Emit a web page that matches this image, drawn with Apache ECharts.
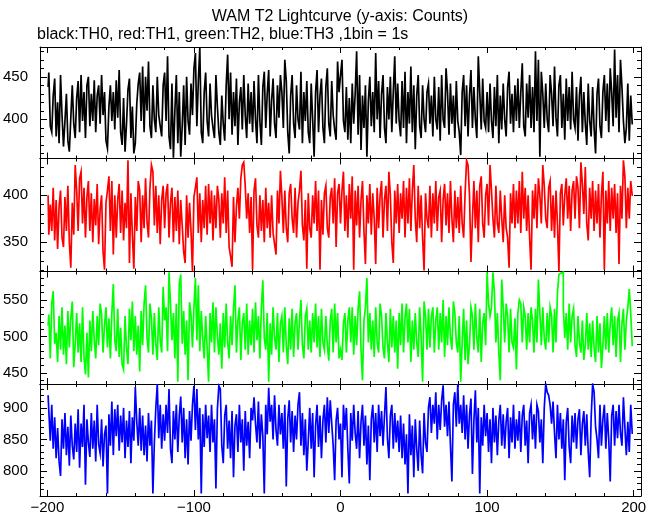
<!DOCTYPE html>
<html><head><meta charset="utf-8">
<script src="https://cdn.jsdelivr.net/npm/echarts@6/dist/echarts.min.js"></script>
<style>html,body{margin:0;padding:0;background:#fff}#c{width:660px;height:515px}</style>
</head><body><div id="c"></div><script>
// ---- data (counts per 1 s bin, bins from -200 s to +200 s) ----
const th0 = [
438,455,392,385,428,448,380,420,372,452,405,368,398,430,375,362,402,440,395,378,
425,445,385,452,398,432,378,440,450,392,430,398,446,385,428,440,395,452,405,432,
375,366,415,440,398,432,388,446,402,458,385,370,425,362,395,435,448,378,415,360,
372,418,442,455,398,462,385,450,410,468,392,378,440,400,385,450,405,392,380,440,
455,398,474,380,365,442,355,410,452,372,432,356,392,440,370,450,398,382,442,405,
460,478,392,445,484,385,372,432,455,398,380,442,405,390,378,452,415,385,370,428,
395,375,440,476,400,455,382,432,392,448,370,420,438,388,452,405,378,442,395,432,
385,445,400,372,452,398,370,438,456,390,430,458,380,422,448,395,378,440,402,452,
432,390,470,445,385,360,428,452,395,378,440,400,388,456,372,432,398,445,385,372,
442,400,356,432,458,385,428,448,390,372,438,460,395,380,445,405,388,376,468,432,
452,470,398,385,438,376,425,372,442,395,430,480,382,452,364,428,390,440,356,422,
450,392,432,385,478,400,445,378,430,452,390,372,438,400,450,385,432,474,395,442,
398,380,445,390,456,372,432,395,462,385,440,365,428,452,392,378,440,400,385,432,
442,395,428,380,450,400,388,438,375,452,400,390,460,432,382,442,395,428,378,445,
398,385,358,432,452,392,440,380,428,458,390,438,400,378,474,432,388,448,398,390,
432,385,442,398,378,438,392,452,372,428,388,442,400,380,438,456,395,430,385,440,
398,448,390,432,466,392,380,442,402,452,390,438,385,480,398,470,356,456,430,390,
442,400,385,452,430,392,462,402,380,440,452,390,430,376,448,398,438,388,456,400,
390,438,375,428,450,385,432,395,370,442,398,380,438,390,360,430,448,392,378,432,
452,398,442,385,460,432,392,482,402,452,385,470,438,398,372,390,442,375,428,395
];
const th1 = [
400,358,390,362,408,352,395,343,388,405,355,345,398,362,410,350,323,392,358,432,
405,362,418,425,370,408,355,398,415,362,402,350,396,368,412,348,385,400,340,321,
392,405,420,362,415,337,400,355,395,412,360,405,352,392,365,437,328,402,358,322,
398,362,415,405,350,400,365,418,372,355,408,432,425,368,410,360,400,348,395,410,
365,402,412,355,392,408,350,398,362,405,348,395,368,340,328,400,355,392,362,319,
398,408,419,360,402,350,395,365,410,358,412,370,405,352,400,365,410,395,355,402,
370,419,360,405,345,335,324,398,350,388,408,375,418,432,435,410,375,402,360,398,
321,405,418,368,355,400,362,395,350,408,365,392,355,400,360,348,337,405,370,426,
398,360,405,365,350,402,412,375,360,408,355,392,405,426,368,352,395,322,402,365,
355,400,370,415,362,405,321,395,358,402,410,365,355,398,408,370,418,345,402,412,
370,405,425,362,400,355,412,375,420,321,405,368,410,355,395,415,362,327,400,370,
412,358,402,375,327,408,365,400,415,355,395,410,362,425,400,350,328,405,370,412,
360,402,375,415,355,408,370,418,362,405,432,375,350,410,365,400,355,320,402,375,
365,410,355,402,370,415,362,398,405,350,395,412,368,402,360,415,375,350,405,365,
398,360,410,370,355,402,437,432,400,329,375,415,365,405,350,410,420,370,355,400,
412,368,432,405,375,355,410,370,360,405,375,350,400,365,355,323,402,370,412,365,
405,370,415,360,425,375,408,362,400,355,321,405,375,412,365,418,400,370,432,410,
375,365,408,415,362,400,355,405,370,319,402,412,368,400,418,375,410,362,405,415,
375,420,408,365,435,412,380,430,370,352,408,375,415,362,405,370,412,355,400,425,
321,405,370,415,362,408,375,412,360,402,327,410,375,437,420,365,408,375,415,400
];
const th2 = [
515,530,470,545,562,490,505,465,528,482,540,475,515,462,535,485,525,548,458,490,
532,478,518,465,540,472,448,505,444,522,480,535,495,470,528,488,545,530,478,515,
540,485,525,470,532,572,495,480,538,472,512,462,455,528,485,462,538,495,548,480,
528,475,515,452,535,488,545,570,498,478,545,525,475,532,490,468,540,495,478,568,
522,540,480,588,545,495,532,470,545,438,572,585,490,535,475,522,440,547,530,485,
540,580,495,570,480,535,498,470,528,485,438,532,492,547,478,540,500,475,518,456,
532,485,545,492,470,528,488,538,570,478,522,540,468,518,532,482,545,475,522,488,
538,478,547,495,528,470,540,577,498,482,532,438,518,475,540,498,482,532,465,518,
528,478,540,488,462,525,482,538,472,518,532,482,522,550,488,470,528,538,482,522,
478,532,492,545,485,528,472,538,492,482,528,488,467,522,538,478,545,492,532,470,
482,468,518,532,478,522,540,492,540,475,528,488,538,562,482,440,522,540,580,492,
532,482,522,472,540,492,478,545,528,485,470,532,492,465,538,485,528,478,522,456,
532,488,545,478,525,545,492,538,465,522,482,532,492,472,540,498,438,548,528,482,
538,485,528,540,478,522,540,482,532,492,550,472,528,488,540,498,482,548,532,492,
478,528,438,492,538,468,522,462,488,540,528,482,545,498,478,538,465,518,532,488,
588,545,528,540,588,560,492,532,478,440,578,540,492,545,528,478,538,492,485,525,
455,532,550,545,492,540,528,482,532,492,540,522,478,538,492,578,532,488,540,498,
482,532,492,540,528,478,538,492,560,585,587,588,540,498,532,482,545,492,528,538,
488,472,528,492,478,522,468,488,532,482,518,472,522,485,465,528,478,518,457,488,
528,482,532,478,518,540,488,528,472,522,532,465,518,538,482,522,540,565,532,488
];
const th3 = [
920,895,848,905,835,885,820,868,815,792,882,835,892,825,870,808,888,840,818,875,
830,898,805,875,838,905,778,882,845,822,892,835,880,815,905,842,828,882,807,858,
872,764,890,840,910,825,898,855,905,832,888,845,900,820,880,838,895,812,885,848,
933,878,840,900,832,888,825,872,815,892,840,880,764,845,900,938,852,905,835,890,
848,905,860,930,835,812,895,850,905,830,888,918,845,900,820,882,810,895,848,905,
935,865,930,850,900,764,890,838,905,852,888,830,905,845,882,772,898,935,930,840,
812,888,905,835,880,820,895,790,872,890,830,905,845,882,800,895,840,878,820,900,
880,917,875,845,910,835,890,855,764,905,858,932,878,905,850,920,865,840,905,858,
892,835,905,775,882,912,845,895,830,888,850,905,925,840,892,825,882,800,848,900,
835,892,790,872,905,838,888,820,880,905,845,917,860,912,875,840,785,880,900,850,
875,790,905,865,900,835,780,892,848,905,860,835,895,820,878,905,840,888,810,872,
785,882,905,845,892,830,905,855,895,840,888,933,852,820,888,905,835,892,845,880,
830,888,820,875,810,858,764,890,825,872,790,882,835,800,880,825,796,892,845,830,
900,917,860,905,875,925,850,905,865,912,936,870,905,855,910,840,783,905,925,870,
938,875,905,860,920,850,905,835,890,915,795,880,928,845,900,764,885,840,905,855,
892,830,882,812,900,845,888,825,880,905,840,890,835,878,900,820,885,845,905,835,
882,848,895,830,888,905,840,880,812,892,905,850,890,835,905,895,845,882,812,900,
938,925,920,905,875,910,860,820,905,850,892,835,882,785,878,900,838,812,888,845,
892,835,882,898,825,875,895,840,890,830,790,885,938,925,870,850,820,905,840,882,
905,835,892,850,783,888,905,840,895,852,905,860,840,917,870,825,878,830,905,860
];
const seriesNames = ['TH0','TH1','TH2','TH3'];
const seriesColors = ['#000000','#ff0000','#00ff00','#0000ff'];
const seriesValues = [th0, th1, th2, th3];
const binStart = -200;          // first bin edge (s)
const binWidth = 1;             // 1 bin = 1 s
const xMin = -205, xMax = 205;
const xMajorTicks = [-200,-100,0,100,200];
const xMinorTicks = [-180,-160,-140,-120,-80,-60,-40,-20,20,40,60,80,120,140,160,180];
const yRanges = [[354,485],[319,439],[435,589],[760,938]];
const yMajorTicks = [[400,450],[350,400],[450,500,550],[800,850,900]];
const yMinorTicks = [
  [360,370,380,390,410,420,430,440,460,470,480],
  [320,330,340,360,370,380,390,410,420,430],
  [440,460,470,480,490,510,520,530,540,560,570,580],
  [770,780,790,810,820,830,840,860,870,880,890,910,920,930]
];
const titleText = 'WAM T2 Lightcurve (y-axis: Counts)';
const subText = 'black:TH0, red:TH1, green:TH2, blue:TH3 ,1bin = 1s';

// ---- layout ----
const FONT = '"Liberation Sans", Arial, Helvetica, sans-serif';
const gridTops = [47, 158.5, 271.5, 384];
const gridHeights = [111.5, 113, 112.5, 112];
const gridLeft = 37, gridWidth = 604;

function fmt(v){ return String(v).replace('-', '\u2212'); }

const grids = [], xAxes = [], yAxes = [], series = [];
function mkAxis(k, pos, min, max, ticks, len, showLine, labels, isX){
  const ax = {
    gridIndex: k, type: 'value', min: min, max: max, position: pos,
    splitLine: {show: false}, minorTick: {show: false},
    axisLine: {show: showLine, onZero: false, lineStyle: {color: '#000', width: 1}},
    axisTick: {show: true, inside: true, length: len, customValues: ticks, lineStyle: {color: '#000', width: 1}},
    axisLabel: {show: false}
  };
  if (labels) {
    ax.axisLabel = {show: true, customValues: labels, color: '#000', fontSize: 15, fontFamily: FONT,
      margin: isX ? 4 : 12, formatter: fmt};
  }
  return ax;
}
for (let k = 0; k < 4; k++) {
  grids.push({left: gridLeft, width: gridWidth, top: gridTops[k], height: gridHeights[k]});
  const xi = xAxes.length, yi = yAxes.length;
  xAxes.push(mkAxis(k, 'bottom', xMin, xMax, xMajorTicks, 6, true, k === 3 ? xMajorTicks : null, true));
  xAxes.push(mkAxis(k, 'bottom', xMin, xMax, xMinorTicks, 3, false, null, true));
  xAxes.push(mkAxis(k, 'top', xMin, xMax, xMajorTicks, 6, true, null, true));
  xAxes.push(mkAxis(k, 'top', xMin, xMax, xMinorTicks, 3, false, null, true));
  const [ymin, ymax] = yRanges[k];
  yAxes.push(mkAxis(k, 'left', ymin, ymax, yMajorTicks[k], 7, true, yMajorTicks[k], false));
  yAxes.push(mkAxis(k, 'left', ymin, ymax, yMinorTicks[k], 4, false, null, false));
  yAxes.push(mkAxis(k, 'right', ymin, ymax, yMajorTicks[k], 7, true, null, false));
  yAxes.push(mkAxis(k, 'right', ymin, ymax, yMinorTicks[k], 4, false, null, false));
  const vals = seriesValues[k];
  series.push({
    name: seriesNames[k], type: 'line', step: 'middle', xAxisIndex: xi, yAxisIndex: yi,
    data: vals.map((v, i) => [binStart + binWidth * (i + 0.5), v]),
    showSymbol: false, symbol: 'none', silent: true, sampling: null,
    lineStyle: {color: seriesColors[k], width: 1.7, join: 'miter', cap: 'butt'},
    itemStyle: {color: seriesColors[k]}
  });
}

const chart = echarts.init(document.getElementById('c'), null, {renderer: 'canvas'});
chart.setOption({
  animation: false,
  backgroundColor: '#ffffff',
  title: [
    {text: titleText, left: 335, top: 4, textAlign: 'center',
     textStyle: {fontSize: 16, fontWeight: 'normal', color: '#000', fontFamily: FONT}},
    {text: subText, left: 32, top: 22,
     textStyle: {fontSize: 16, fontWeight: 'normal', color: '#000', fontFamily: FONT}}
  ],
  grid: grids, xAxis: xAxes, yAxis: yAxes, series: series
});
</script></body></html>
